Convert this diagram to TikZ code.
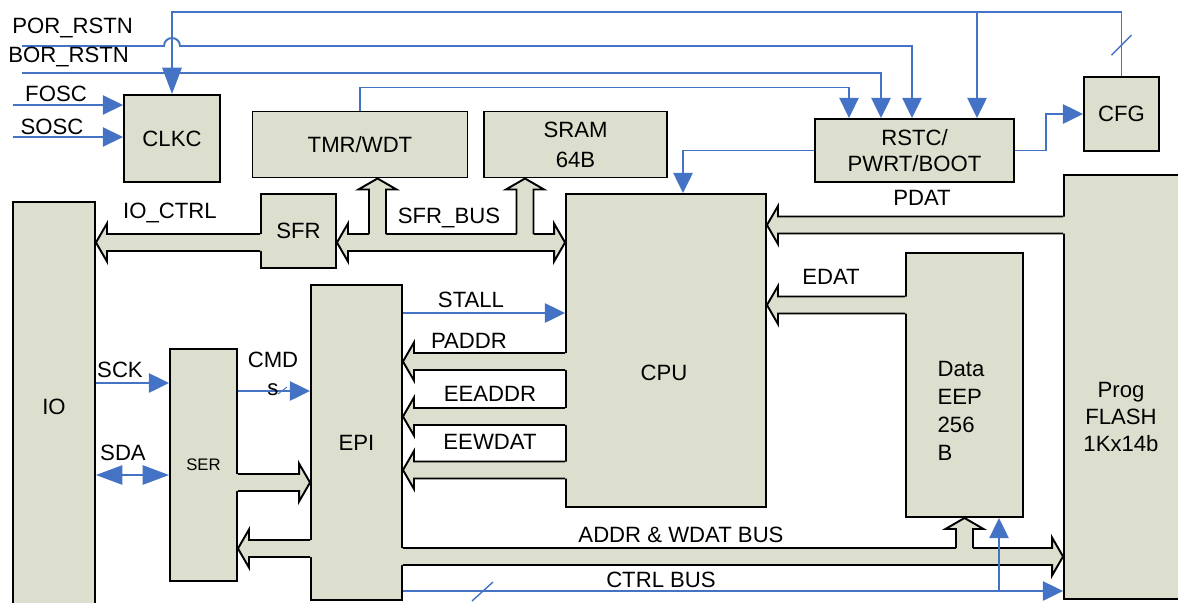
\documentclass[tikz,border=0pt]{standalone}
\usepackage{fontspec}
\setmainfont{Liberation Sans}
\usetikzlibrary{arrows.meta,calc}

\definecolor{sigblue}{RGB}{68,114,196}
\definecolor{boxfill}{RGB}{221,223,206}

\newcommand{\busw}{1.7mm}
\newcommand{\headw}{3.8mm}
\newcommand{\headl}{2.2mm}
% horizontal bus: [tail overlap], tail, tip, y
\newcommand{\busH}[4][2.5pt]{%
  \fill[busfill] let \p1=(#2), \p2=(#3), \p3=(0,#4), \n1={sign(\x2-\x1)} in
    ({\x1-(\n1)*#1},{\y3+\busw}) -- ({\x2-(\n1)*\headl},{\y3+\busw}) -- ({\x2-(\n1)*\headl},{\y3+\headw})
    -- (\x2,\y3) -- ({\x2-(\n1)*\headl},{\y3-\headw}) -- ({\x2-(\n1)*\headl},{\y3-\busw})
    -- ({\x1-(\n1)*#1},{\y3-\busw}) -- cycle;
  \draw[busline] let \p1=(#2), \p2=(#3), \p3=(0,#4), \n1={sign(\x2-\x1)} in
    (\x1,{\y3+\busw}) -- ({\x2-(\n1)*\headl},{\y3+\busw}) -- ({\x2-(\n1)*\headl},{\y3+\headw})
    -- (\x2,\y3) -- ({\x2-(\n1)*\headl},{\y3-\headw}) -- ({\x2-(\n1)*\headl},{\y3-\busw})
    -- (\x1,{\y3-\busw});
}
% vertical branch: tail (on a bus), tip, x
\newcommand{\busV}[3]{%
  \fill[busfill] let \p1=(#1), \p2=(#2), \p3=(#3,0), \n1={sign(\y2-\y1)} in
    ({\x3-\busw},\y1) -- ({\x3-\busw},{\y2-(\n1)*\headl}) -- ({\x3-\headw},{\y2-(\n1)*\headl})
    -- (\x3,\y2) -- ({\x3+\headw},{\y2-(\n1)*\headl}) -- ({\x3+\busw},{\y2-(\n1)*\headl})
    -- ({\x3+\busw},\y1) -- cycle;
  \draw[busline] let \p1=(#1), \p2=(#2), \p3=(#3,0), \n1={sign(\y2-\y1)} in
    ({\x3-\busw},{\y1+(\n1)*\busw}) -- ({\x3-\busw},{\y2-(\n1)*\headl}) -- ({\x3-\headw},{\y2-(\n1)*\headl})
    -- (\x3,\y2) -- ({\x3+\headw},{\y2-(\n1)*\headl}) -- ({\x3+\busw},{\y2-(\n1)*\headl})
    -- ({\x3+\busw},{\y1+(\n1)*\busw});
}

\begin{document}
\begin{tikzpicture}[x=0.2mm, y=-0.2mm,
    every node/.style={font=\fontsize{12.6}{15.5}\selectfont, inner sep=0pt, align=center},
    blk/.style={draw, fill=boxfill, line width=1.1pt},
    sig/.style={draw=sigblue, line width=1.1pt, -{Triangle[length=11.5pt, width=11pt]}},
    thinsig/.style={sig, line width=0.8pt},
    sdaline/.style={draw=sigblue, line width=0.8pt, {Triangle[length=15pt, width=11pt]}-{Triangle[length=15pt, width=11pt]}},
    slashmk/.style={draw=sigblue, line width=0.8pt},
    busfill/.style={fill=boxfill},
    busline/.style={draw=black, line width=1.1pt}]
    \useasboundingbox (0,0) rectangle (1178,602);

    % Bloky
    \node[blk, minimum width=19.2mm, minimum height=17.4mm] (clkc) at (172,138.5) {CLKC};
    \node[blk, minimum width=43mm, minimum height=13.2mm] (tmr) at (360,144.5) {TMR/WDT};
    \node[blk, minimum width=36.6mm, minimum height=13.2mm, font=\fontsize{12.6}{17}\selectfont] (sram) at (575.5,144.5) {SRAM\\64B};
    \node[blk, minimum width=15mm, minimum height=14.8mm] (sfr) at (298.5,231) {SFR};
    \node[blk, minimum width=39.8mm, minimum height=12.6mm, font=\fontsize{12.6}{14.7}\selectfont] (rstc) at (914.5,150.5) {RSTC/\\PWRT/BOOT};
    \node[blk, minimum width=15mm, minimum height=14.8mm] (cfg) at (1121.5,114) {CFG};
    \node[blk, minimum width=40mm, minimum height=62.6mm] (cpu) at (666,350.5) {};
    \node (cputxt) at (664,373) {CPU};
    \node[blk, minimum width=23.4mm, minimum height=52.8mm] (eep) at (964.5,385) {};
    \node[align=left, font=\fontsize{12.6}{15.9}\selectfont] (eeptxt) at (961,411) {Data\\EEP\\256\\B};
    \node[blk, minimum width=23.4mm, minimum height=84.8mm] (flash) at (1122.5,387) {};
    \node[font=\fontsize{12.6}{15.6}\selectfont] (flashtxt) at (1121,417) {Prog\\FLASH\\1Kx14b};
    \node[blk, minimum width=16.4mm, minimum height=82mm] (io) at (54,407) {IO};
    \node[blk, minimum width=13.4mm, minimum height=46.4mm, font=\fontsize{9.5}{11}\selectfont] (ser) at (203.5,465) {SER};
    \node[blk, minimum width=18.2mm, minimum height=63mm] (epi) at (356.5,442.5) {EPI};

    % Sbernice
    % IO_CTRL
    \busH{sfr.west}{io.east}{242.5}
    % SFR_BUS
    \coordinate (sfrmid) at (450,242.5);
    \busH[0pt]{sfrmid}{sfr.east}{242.5}
    \busH[0pt]{sfrmid}{cpu.west}{242.5}
    \busV{sfrmid}{tmr.south}{377.5}
    \busV{sfrmid}{sram.south}{525}
    % PDAT, EDAT
    \busH{flash.west}{cpu.east}{225}
    \busH{eep.west}{cpu.east}{305}
    % PADDR, EEADDR, EEWDAT
    \busH{cpu.west}{epi.east}{361.5}
    \busH{cpu.west}{epi.east}{416.5}
    \busH{cpu.west}{epi.east}{470}
    % SER <-> EPI
    \busH{ser.east}{epi.west}{482.5}
    \busH{epi.west}{ser.east}{548.5}
    % ADDR & WDAT BUS
    \coordinate (addrbr) at (964.5,556.5);
    \busH{epi.east}{flash.west}{556.5}
    \busV{addrbr}{eep.south}{964.5}

    % Signaly nahore
    \coordinate (porin) at (22,46);
    \coordinate (borin) at (22,73);
    \coordinate (foscin) at (13,105);
    \coordinate (soscin) at (13,137);
    \coordinate (rst1) at ($(rstc.north)+(-65.5,0)$);
    \coordinate (rst2) at ($(rstc.north)+(-33.5,0)$);
    \coordinate (rst3) at ($(rstc.north)+(-2.5,0)$);
    \coordinate (rst4) at ($(rstc.north)+(62.5,0)$);
    \coordinate (hop) at (clkc.north |- porin);

    \draw[sig, -{Triangle[length=15pt, width=11pt]}] (cfg.north) -- ++(0,-64) coordinate (cfgtop) -| (clkc.north);
    \draw[sig] (rst4 |- cfgtop) -- (rst4);
    \draw[slashmk] ([shift={(-10,-21)}]cfg.north) -- ++(20,-20);
    \draw[sig] (porin) -- ([xshift=-1.6mm]hop) arc[start angle=180, end angle=0, radius=1.6mm] -| (rst3);
    \draw[sig] (borin) -| (rst2);
    \draw[thinsig] (tmr.north) -- ++(0,-23) -| (rst1);
    \draw[sig] (rstc.west) -| ($(cpu.north)+(17,0)$);
    \draw[sig] (rstc.east) -- ++(31,0) |- (cfg.west);
    \draw[thinsig] (foscin) -- (foscin -| clkc.west);
    \draw[thinsig] (soscin) -- (soscin -| clkc.west);

    % Signaly dole
    \draw[sig] (epi.east |- 0,313) -- (cpu.west |- 0,313);
    \draw[sig] (io.east |- 0,383) -- (ser.west |- 0,383);
    \draw[sig] (ser.east |- 0,391) -- (epi.west |- 0,391);
    \draw[slashmk, line width=0.5pt] (278,394) -- (287,387);
    \draw[sdaline] (io.east |- 0,475) -- (ser.west |- 0,475);
    \draw[sig] (epi.east |- 0,591) -- (flash.west |- 0,591);
    \draw[slashmk] (472,601) -- (493,582);
    \coordinate (eepin) at ($(eep.south)+(34.5,0)$);
    \draw[sig] (eepin |- 0,591) -- (eepin);

    % Popisky
    \node[anchor=west] (lpor) at (12,28) {POR\_RSTN};
    \node[anchor=west] (lbor) at (8,57) {BOR\_RSTN};
    \node (lfosc) at (56,94) {FOSC};
    \node (lsosc) at (52,127) {SOSC};
    \node (lioctrl) at (170,213) {IO\_CTRL};
    \node (lsfrbus) at (449,218) {SFR\_BUS};
    \node (lpdat) at (922,198) {PDAT};
    \node (ledat) at (831,277) {EDAT};
    \node (lstall) at (471,300) {STALL};
    \node (lpaddr) at (469,341) {PADDR};
    \node (leeaddr) at (490,394) {EEADDR};
    \node (leewdat) at (490,442) {EEWDAT};
    \node (lsck) at (120,370) {SCK};
    \node (lcmd) at (273,360) {CMD};
    \node (lcmds) at (273,390) {s};
    \node (lsda) at (123,453) {SDA};
    \node (laddr) at (681,535) {ADDR \& WDAT BUS};
    \node (lctrl) at (661,580) {CTRL BUS};

\end{tikzpicture}
\end{document}
